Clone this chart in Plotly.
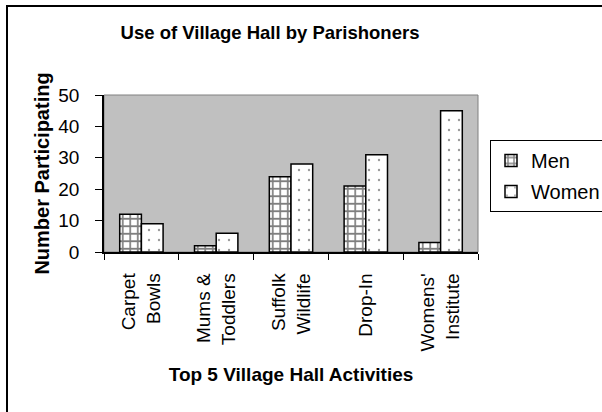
import plotly.graph_objects as go

categories = ["Carpet<br>Bowls", "Mums &<br>Toddlers", "Suffolk<br>Wildlife", "Drop-In", "Womens'<br>Institute"]
men = [12, 2, 24, 21, 3]
women = [9, 6, 28, 31, 45]
y_ticks = [0, 10, 20, 30, 40, 50]

FONT = "Liberation Sans, Arial, sans-serif"

fig = go.Figure()
fig.add_trace(go.Bar(
    x=categories, y=men, name="Men", legendgroup="men",
    marker=dict(color="white", line=dict(color="black", width=1.5),
                pattern=dict(shape="+", fgcolor="black", bgcolor="white", size=7.5, solidity=0.4)),
))
fig.add_trace(go.Bar(
    x=categories, y=women, name="Women", legendgroup="women",
    marker=dict(color="white", line=dict(color="black", width=1.5),
                pattern=dict(shape=".", fgcolor="#333333", bgcolor="white", size=10, solidity=0.045)),
))

W, H = 602, 412
L, R, T, B = 104, 124, 95, 160
pw, ph = W - L - R, H - T - B

def px_x(p):
    return (p - L) / pw

def px_y(p):
    return (H - B - p) / ph

fig.update_layout(
    width=W, height=H,
    margin=dict(l=L, r=R, t=T, b=B, pad=0, autoexpand=False),
    paper_bgcolor="white", plot_bgcolor="#C0C0C0",
    barmode="group", bargap=0.42, bargroupgap=0,
    font=dict(family=FONT, color="black", size=19),
    title=dict(text="<b>Use of Village Hall by Parishoners</b>", font=dict(size=18.5),
               x=270 / W, xanchor="center", y=1 - 33 / H, yanchor="middle"),
    legend=dict(x=px_x(490), xanchor="left", y=px_y(140), yanchor="top",
                bordercolor="black", borderwidth=1, bgcolor="white",
                font=dict(size=20), tracegroupgap=2, itemwidth=30),
    xaxis=dict(showline=True, linecolor="black", linewidth=1.5, ticks="outside",
               ticklen=6, tickcolor="black", tickangle=-90, tickfont=dict(size=19),
               showgrid=False, tickson="boundaries", ticklabelstandoff=12, automargin=False,
               title=dict(text="<b>Top 5 Village Hall Activities</b>", font=dict(size=19), standoff=17)),
    yaxis=dict(range=[0, 50], tickvals=y_ticks, showline=True, linecolor="black", linewidth=1.5,
               ticks="outside", ticklen=7, tickcolor="black", tickfont=dict(size=19),
               showgrid=False, zeroline=False, ticklabelstandoff=12, automargin=False,
               title=dict(text="<b>Number Participating</b>", font=dict(size=20), standoff=3)),
    shapes=[
        dict(type="rect", xref="paper", yref="paper", x0=0, x1=1, y0=0, y1=1,
             line=dict(color="#808080", width=1), layer="below"),
        dict(type="rect", xref="paper", yref="paper", x0=px_x(7), x1=px_x(800), y0=px_y(6), y1=px_y(700),
             line=dict(color="black", width=2), layer="above"),
    ],
)

fig.write_html("out.html", config={"displayModeBar": False},
               post_script="document.body.style.margin='0';document.body.style.overflow='hidden';")
